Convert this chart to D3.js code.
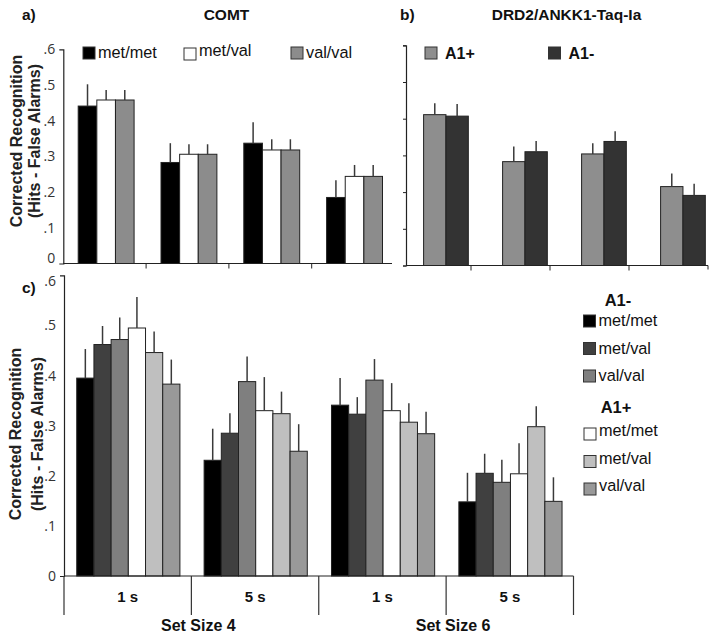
<!DOCTYPE html>
<html><head><meta charset="utf-8">
<script src="https://cdn.jsdelivr.net/npm/d3@7"></script>
<style>body{margin:0;background:#fff}svg{display:block}</style>
</head><body>
<script>
// ---------- data ----------
const conditions = ["SS4 1s", "SS4 5s", "SS6 1s", "SS6 5s"];
const delayLabels = ["1 s", "5 s", "1 s", "5 s"];
const setSizeLabels = ["Set Size 4", "Set Size 6"];
const yTicks = [0, 0.1, 0.2, 0.3, 0.4, 0.5, 0.6];

// panel a: COMT
const comtGenotypes = ["met/met", "met/val", "val/val"];
const comtMetMet = [0.441, 0.283, 0.337, 0.185];
const comtMetMetErr = [0.061, 0.054, 0.059, 0.048];
const comtMetVal = [0.458, 0.306, 0.318, 0.244];
const comtMetValErr = [0.028, 0.028, 0.030, 0.032];
const comtValVal = [0.458, 0.306, 0.318, 0.244];
const comtValValErr = [0.028, 0.028, 0.030, 0.032];

// panel b: DRD2/ANKK1
const drdGroups = ["A1+", "A1-"];
const drdA1Plus = [0.411, 0.283, 0.304, 0.215];
const drdA1PlusErr = [0.031, 0.041, 0.029, 0.036];
const drdA1Minus = [0.407, 0.310, 0.338, 0.191];
const drdA1MinusErr = [0.033, 0.029, 0.028, 0.032];

// panel c: combined
const comboSeries = ["A1- met/met", "A1- met/val", "A1- val/val", "A1+ met/met", "A1+ met/val", "A1+ val/val"];
const a1mMetMet = [0.395, 0.231, 0.341, 0.148];
const a1mMetMetErr = [0.058, 0.063, 0.054, 0.058];
const a1mMetVal = [0.462, 0.285, 0.323, 0.205];
const a1mMetValErr = [0.037, 0.040, 0.034, 0.039];
const a1mValVal = [0.472, 0.388, 0.391, 0.187];
const a1mValValErr = [0.044, 0.050, 0.042, 0.045];
const a1pMetMet = [0.495, 0.330, 0.330, 0.204];
const a1pMetMetErr = [0.062, 0.067, 0.055, 0.061];
const a1pMetVal = [0.446, 0.324, 0.307, 0.298];
const a1pMetValErr = [0.042, 0.044, 0.038, 0.041];
const a1pValVal = [0.383, 0.249, 0.284, 0.149];
const a1pValValErr = [0.049, 0.054, 0.044, 0.048];

// ---------- drawing ----------
const W = 714, H = 636;
const svg = d3.select("body").append("svg").attr("width", W).attr("height", H);
svg.append("rect").attr("width", W).attr("height", H).attr("fill", "#fff");

const boldFont = "'Liberation Sans', Arial, sans-serif";
const tickFont = "'Open Sans', sans-serif";
const fmt = v => v === 0 ? "0" : d3.format(".1f")(v).replace(/^0/, "");

function buildRows(seriesKeys, means, errs) {
  const rows = [];
  conditions.forEach((c, i) => {
    seriesKeys.forEach((k, j) => {
      rows.push({cond: c, key: k, mean: means[j][i], err: errs[j][i]});
    });
  });
  return rows;
}

function drawBars(g, rows, x, inner, y, color) {
  g.selectAll("rect.bar").data(rows).join("rect")
    .attr("class", "bar")
    .attr("x", d => x(d.cond) + inner(d.key))
    .attr("width", inner.bandwidth())
    .attr("y", d => y(d.mean))
    .attr("height", d => y(0) - y(d.mean))
    .attr("fill", d => color(d.key))
    .attr("stroke", "#222").attr("stroke-width", 1);
  g.selectAll("line.err").data(rows).join("line")
    .attr("class", "err")
    .attr("x1", d => x(d.cond) + inner(d.key) + inner.bandwidth() / 2)
    .attr("x2", d => x(d.cond) + inner(d.key) + inner.bandwidth() / 2)
    .attr("y1", d => y(d.mean))
    .attr("y2", d => y(d.mean + d.err))
    .attr("stroke", "#3a3a3a").attr("stroke-width", 1.5);
}

function yAxis(g, y, xPos, labels, tickSize, outer) {
  const ax = d3.axisLeft(y).tickValues(yTicks).tickSizeOuter(outer).tickSizeInner(tickSize)
    .tickPadding(labels ? 8 : 2).tickFormat(labels ? fmt : () => "");
  const a = g.append("g").attr("transform", `translate(${xPos},0)`).call(ax);
  a.select(".domain").attr("stroke", "#222").attr("stroke-width", 1.2);
  a.selectAll(".tick line").attr("stroke", "#222");
  a.selectAll("text").attr("font-family", tickFont).attr("font-size", 14).attr("fill", "#333");
  return a;
}

function yTitle(cy, b1, b2) {
  svg.append("text").attr("transform", `translate(${b1},${cy}) rotate(-90)`)
    .attr("text-anchor", "middle").attr("font-family", boldFont).attr("font-weight", "bold")
    .attr("font-size", 16).attr("fill", "#222").text("Corrected Recognition");
  svg.append("text").attr("transform", `translate(${b2},${cy}) rotate(-90)`)
    .attr("text-anchor", "middle").attr("font-family", boldFont).attr("font-weight", "bold")
    .attr("font-size", 16).attr("fill", "#222").text("(Hits - False Alarms)");
}

function label(x, y, t, size, anchor) {
  svg.append("text").attr("x", x).attr("y", y).attr("text-anchor", anchor || "start")
    .attr("font-family", boldFont).attr("font-weight", "bold").attr("font-size", size)
    .attr("fill", "#111").text(t);
}

function legendItem(x, y, col, txt, textDy) {
  svg.append("rect").attr("x", x).attr("y", y).attr("width", 12).attr("height", 12)
    .attr("fill", col).attr("stroke", "#333").attr("stroke-width", 1);
  if (txt) svg.append("text").attr("x", x + 15).attr("y", y + 11 + (textDy || 0))
    .attr("font-family", boldFont).attr("font-size", 16.3).attr("fill", "#111").text(txt);
}

// ---- Panel a ----
{
  const g = svg.append("g");
  const x = d3.scaleBand().domain(conditions).range([63.3, 394.5]);
  const bw = x.bandwidth();
  const inner = d3.scaleBand().domain(comtGenotypes).range([bw * 0.18, bw * 0.855]);
  const y = d3.scaleLinear().domain([0, 0.6]).range([263.5, 49.3]);
  const color = d3.scaleOrdinal().domain(comtGenotypes).range(["#000", "#fff", "#8c8c8c"]);
  const rows = buildRows(comtGenotypes, [comtMetMet, comtMetVal, comtValVal], [comtMetMetErr, comtMetValErr, comtValValErr]);
  drawBars(g, rows, x, inner, y, color);
  const a = yAxis(g, y, 63.3, true, 0, 4);
  a.selectAll(".tick text").filter(d => d === 0).attr("dy", "-0.05em");
  g.append("line").attr("x1", 63.3).attr("x2", 392).attr("y1", y(0)).attr("y2", y(0)).attr("stroke", "#222").attr("stroke-width", 1.2);
  conditions.slice(1).forEach(c => {
    g.append("line").attr("x1", x(c)).attr("x2", x(c)).attr("y1", y(0)).attr("y2", y(0) + 5).attr("stroke", "#222");
  });
  label(22, 20, "a)", 15.5);
  label(226.5, 20, "COMT", 15.5, "middle");
  yTitle(141, 22, 40);
  legendItem(83, 47, color("met/met"), "met/met");
  legendItem(184, 48, color("met/val"), "met/val", -3);
  legendItem(291, 47, color("val/val"), "val/val");
}

// ---- Panel b ----
{
  const g = svg.append("g");
  const x = d3.scaleBand().domain(conditions).range([392, 708]);
  const bw = x.bandwidth();
  const inner = d3.scaleBand().domain(drdGroups).range([bw * 0.40, bw * 0.966]);
  const y = d3.scaleLinear().domain([0, 0.6]).range([265.5, 45.3]);
  const color = d3.scaleOrdinal().domain(drdGroups).range(["#8e8e8e", "#333333"]);
  const rows = buildRows(drdGroups, [drdA1Plus, drdA1Minus], [drdA1PlusErr, drdA1MinusErr]);
  drawBars(g, rows, x, inner, y, color);
  yAxis(g, y, 406, false, 3, 3);
  g.append("line").attr("x1", 406).attr("x2", 708).attr("y1", y(0)).attr("y2", y(0)).attr("stroke", "#222").attr("stroke-width", 1.2);
  conditions.slice(1).forEach(c => {
    g.append("line").attr("x1", x(c)).attr("x2", x(c)).attr("y1", y(0)).attr("y2", y(0) + 5).attr("stroke", "#222");
  });
  g.append("line").attr("x1", 708).attr("x2", 708).attr("y1", y(0)).attr("y2", y(0) + 4).attr("stroke", "#222");
  label(400, 20, "b)", 15.5);
  label(566.5, 20, "DRD2/ANKK1-Taq-Ia", 15.5, "middle");
  legendItem(425, 47, color("A1+"), "");
  label(445, 59, "A1+", 16);
  legendItem(548.5, 47, color("A1-"), "");
  label(568.5, 59, "A1-", 16);
}

// ---- Panel c ----
{
  const g = svg.append("g");
  const x = d3.scaleBand().domain(conditions).range([64, 573.5]);
  const bw = x.bandwidth();
  const inner = d3.scaleBand().domain(comboSeries).range([bw * 0.1, bw * 0.91]);
  const y = d3.scaleLinear().domain([0, 0.6]).range([576, 275.4]);
  const cols = ["#000000", "#404040", "#7f7f7f", "#ffffff", "#bfbfbf", "#999999"];
  const color = d3.scaleOrdinal().domain(comboSeries).range(cols);
  const rows = buildRows(comboSeries,
    [a1mMetMet, a1mMetVal, a1mValVal, a1pMetMet, a1pMetVal, a1pValVal],
    [a1mMetMetErr, a1mMetValErr, a1mValValErr, a1pMetMetErr, a1pMetValErr, a1pValValErr]);
  drawBars(g, rows, x, inner, y, color);
  const a = yAxis(g, y, 64, true, 0, 4);
  a.selectAll(".tick text").filter(d => d === 0.6).attr("dy", "0.7em");
  g.append("line").attr("x1", 64).attr("x2", 573.5).attr("y1", y(0)).attr("y2", y(0)).attr("stroke", "#222").attr("stroke-width", 1.2);
  const bounds = conditions.map(c => x(c)).concat([x.range()[1]]);
  bounds.forEach(b => {
    g.append("line").attr("x1", b).attr("x2", b).attr("y1", y(0)).attr("y2", 615).attr("stroke", "#333").attr("stroke-width", 1.2);
  });
  conditions.forEach((c, i) => {
    label(x(c) + bw / 2, 602, delayLabels[i], 15, "middle");
  });
  setSizeLabels.forEach((s, i) => {
    label(x(conditions[i * 2 + 1]) + 7, 631, s, 16, "middle");
  });
  label(22, 293, "c)", 15.5);
  yTitle(434, 21, 43);
  // legend
  label(618, 306, "A1-", 16.5, "middle");
  ["met/met", "met/val", "val/val"].forEach((t, i) => legendItem(583.5, 315 + i * 27.5, cols[i], t));
  label(616, 413, "A1+", 16.5, "middle");
  ["met/met", "met/val", "val/val"].forEach((t, i) => legendItem(584, 428 + i * 27.5, cols[i + 3], t, -3));
}
</script>
</body></html>
